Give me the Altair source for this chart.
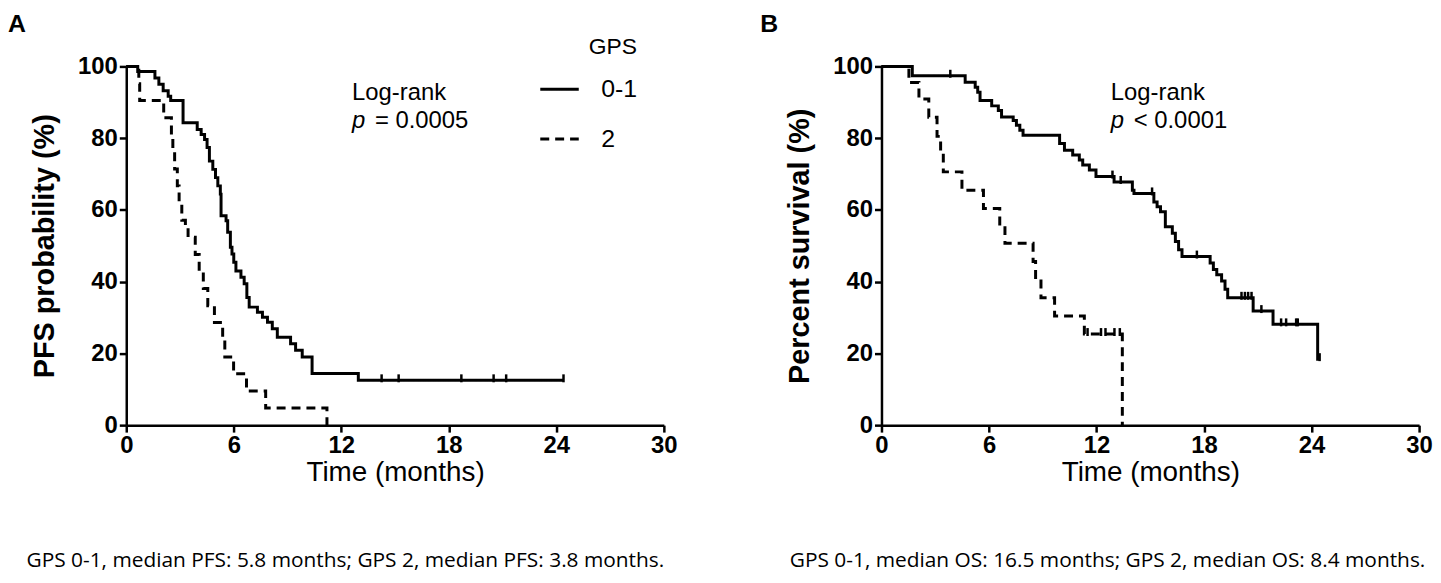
import altair as alt
import pandas as pd
import numpy as np

# ---------------- data ----------------
groups = ["0-1", "2"]
x_ticks = [0, 6, 12, 18, 24, 30]
y_ticks = [0, 20, 40, 60, 80, 100]

# Panel A: PFS, GPS 0-1
pfs_t_01 = [0, 0.64, 1.60, 1.82, 2.06, 2.34, 2.48, 3.17, 3.96, 4.18, 4.37, 4.51, 4.64, 4.83,
            4.98, 5.11, 5.25, 5.29, 5.57, 5.66, 5.81, 5.90, 6.00, 6.12, 6.40, 6.58, 6.73, 6.86,
            7.32, 7.60, 7.88, 8.15, 8.43, 9.17, 9.45, 9.82, 10.37, 12.95, 24.4]
pfs_s_01 = [100, 98.6, 96.8, 95.0, 93.2, 91.7, 90.5, 84.3, 82.4, 81.0, 79.6, 77.4, 73.6, 71.3,
            69.0, 66.7, 64.4, 58.4, 57.0, 53.8, 49.6, 47.7, 45.4, 43.0, 41.2, 39.4, 35.6, 32.9,
            31.5, 30.1, 28.7, 26.9, 24.5, 22.7, 20.9, 19.0, 14.4, 12.5, 12.5]
pfs_cens_01 = [14.25, 15.2, 18.7, 20.5, 21.2, 24.4]

# Panel A: PFS, GPS 2
pfs_t_2 = [0, 0.70, 0.75, 2.09, 2.52, 2.60, 2.70, 2.85, 2.95, 3.10, 3.30, 3.45, 3.85, 4.07,
           4.30, 4.55, 4.92, 5.38, 5.50, 5.99, 6.71, 7.78, 11.2]
pfs_s_2 = [100, 95.2, 90.5, 85.7, 81.0, 76.2, 71.4, 66.7, 61.9, 57.1, 55.0, 52.4, 47.6, 42.9,
           38.1, 33.3, 28.6, 23.8, 19.0, 14.3, 9.5, 4.8, 0]
pfs_cens_2 = []

# Panel B: OS, GPS 0-1
os_t_01 = [0, 1.72, 4.67, 5.23, 5.37, 5.50, 6.15, 6.52, 6.70, 7.35, 7.53, 7.72, 7.90, 9.94,
           10.21, 10.67, 11.04, 11.23, 11.60, 11.97, 12.98, 14.0, 14.09, 15.2, 15.38, 15.57,
           15.84, 16.23, 16.40, 16.58, 16.77, 18.34, 18.52, 18.71, 18.98, 19.17, 19.32, 20.74,
           21.85, 24.34, 24.45]
os_s_01 = [100, 97.4, 95.6, 94.2, 92.8, 90.5, 89.0, 87.7, 85.9, 84.9, 83.6, 82.2, 80.8, 78.5,
           76.6, 75.3, 73.9, 72.5, 71.1, 69.3, 67.8, 65.5, 64.6, 62.2, 60.9, 59.5,
           55.3, 53.5, 51.2, 48.9, 47.0, 45.2, 43.4, 41.9, 40.2, 37.9, 35.5, 31.8,
           28.1, 18.4, 18.4]
os_cens_01 = [3.84, 12.89, 13.35, 15.1, 17.6, 20.09, 20.28, 20.46, 20.65, 21.2, 22.3, 22.58,
              23.14, 23.23, 24.45]

# Panel B: OS, GPS 2
os_t_2 = [0, 1.53, 2.09, 2.64, 3.10, 3.30, 3.45, 4.49, 5.69, 6.60, 6.89, 8.46, 8.60, 8.90,
          9.66, 11.32, 13.44]
os_s_2 = [100, 95.5, 90.9, 85.8, 80.5, 75.7, 70.6, 65.5, 60.4, 55.6, 50.7, 45.6, 40.6, 35.5,
          30.4, 25.4, 0]
os_cens_2 = [11.5, 12.25, 12.5, 13.0, 13.3]

# annotation texts
logrank_label = "Log-rank"
p_symbol = "p"
p_values = ["= 0.0005", "< 0.0001"]
ytitles = ["PFS probability (%)", "Percent survival (%)"]
captions = ["GPS 0-1, median PFS: 5.8 months; GPS 2, median PFS: 3.8 months.",
            "GPS 0-1, median OS: 16.5 months; GPS 2, median OS: 8.4 months."]
letters = ["A", "B"]
annot_t = [12.6, 12.8]
annot_s = [90.7, 82.7]

FONT = "Liberation Sans"


def step_value(ts, ss, t):
    i = int(np.searchsorted(ts, t, side="right")) - 1
    return ss[max(i, 0)]


def build_frames(t01, s01, c01, t2, s2, c2):
    lines = pd.concat([
        pd.DataFrame({"t": t01, "s": s01, "g": groups[0]}),
        pd.DataFrame({"t": t2, "s": s2, "g": groups[1]}),
    ], ignore_index=True)
    cens = pd.DataFrame({
        "t": list(c01) + list(c2),
        "s": [step_value(t01, s01, c) for c in c01] + [step_value(t2, s2, c) for c in c2],
    })
    return lines, cens


def panel(lines, cens, idx, caption_dx):
    xenc = alt.X("t:Q", scale=alt.Scale(domain=[0, 30], nice=False),
                 axis=alt.Axis(values=x_ticks, title="Time (months)", titleFontWeight="normal",
                               titleFontSize=28, titlePadding=1, labelFlush=False))
    yenc = alt.Y("s:Q", scale=alt.Scale(domain=[0, 100], nice=False),
                 axis=alt.Axis(values=y_ticks, title=ytitles[idx], titleFontWeight="bold",
                               titleFontSize=29, titlePadding=18, labelFlush=False))
    line = alt.Chart(lines).mark_line(interpolate="step-after", strokeWidth=3, color="black").encode(
        x=xenc, y=yenc,
        strokeDash=alt.StrokeDash(
            "g:N", scale=alt.Scale(domain=groups, range=[[1, 0], [9, 6]]),
            legend=alt.Legend(title="GPS", orient="none", legendX=415, legendY=-30,
                              titleFontSize=23, titleFontWeight="normal", titleFont=FONT,
                              labelFontSize=25, labelFont=FONT, symbolSize=1500,
                              symbolStrokeWidth=3, symbolStrokeColor="black",
                              symbolType="stroke", labelOffset=21, rowPadding=16,
                              titlePadding=9, titleAnchor="end", padding=0,
                              titleColor="black", labelColor="black")),
    )
    ticks = alt.Chart(cens).mark_rule(strokeWidth=2.5, color="black", yOffset=2, y2Offset=-6).encode(
        x="t:Q", y="s:Q", y2="s:Q")
    ann = pd.DataFrame({"t": [annot_t[idx]], "s1": [annot_s[0]], "s2": [annot_s[1]],
                        "a": [logrank_label], "p": [p_symbol], "v": [p_values[idx]]})
    t1 = alt.Chart(ann).mark_text(align="left", baseline="alphabetic", fontSize=24, font=FONT,
                                  color="black").encode(x="t:Q", y="s1:Q", text="a:N")
    t2 = alt.Chart(ann).mark_text(align="left", baseline="alphabetic", fontSize=24, font=FONT,
                                  fontStyle="italic", color="black").encode(x="t:Q", y="s2:Q", text="p:N")
    t3 = alt.Chart(ann).mark_text(align="left", baseline="alphabetic", fontSize=24, font=FONT,
                                  dx=23, color="black").encode(x="t:Q", y="s2:Q", text="v:N")
    let = alt.Chart(pd.DataFrame({"L": [letters[idx]]})).mark_text(
        align="left", baseline="top", fontSize=25, fontWeight="bold", font=FONT, color="black"
    ).encode(text="L:N", x=alt.value(-119 if idx == 0 else -122), y=alt.value(-55))
    return alt.layer(line, ticks, t1, t2, t3, let).properties(
        width=541, height=361,
        title=alt.TitleParams(text=captions[idx], orient="bottom", anchor="middle", offset=64,
                              dx=caption_dx, font="Open Sans", fontSize=21,
                              fontWeight="normal", color="black"),
    )


la, ca = build_frames(pfs_t_01, pfs_s_01, pfs_cens_01, pfs_t_2, pfs_s_2, pfs_cens_2)
lb, cb = build_frames(os_t_01, os_s_01, os_cens_01, os_t_2, os_s_2, os_cens_2)

chart = alt.hconcat(panel(la, ca, 0, -50), panel(lb, cb, 1, -43), spacing=83).properties(
    padding={"left": 0, "top": 2, "right": 0, "bottom": 0}
).configure(font=FONT).configure_view(stroke=None).configure_axis(
    grid=False, domainColor="black", domainWidth=2.5, tickColor="black", tickWidth=2.5,
    tickSize=7, labelFont=FONT, labelFontWeight="bold", labelFontSize=24, labelColor="black",
    labelPadding=2, titleFont=FONT, titleColor="black"
)

chart.save("out.html", embed_options={"renderer": "svg", "actions": False})
